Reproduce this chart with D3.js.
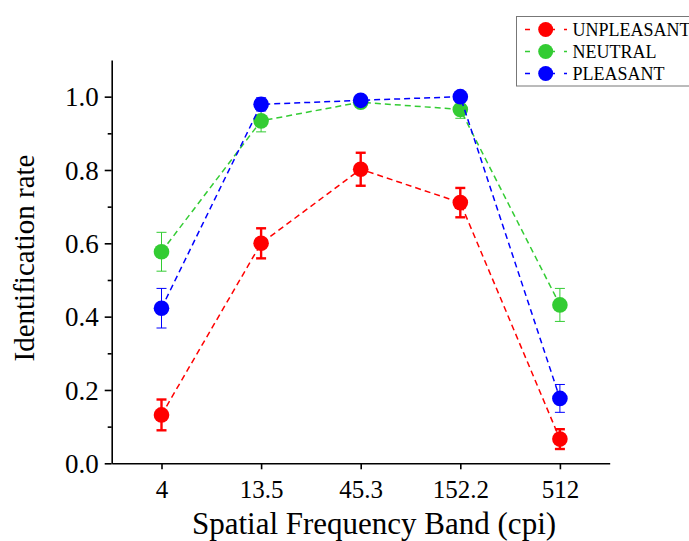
<!DOCTYPE html>
<html>
<head>
<meta charset="utf-8">
<script src="https://cdn.jsdelivr.net/npm/d3@7"></script>
<style>
  body { margin: 0; background: #fff; }
</style>
</head>
<body>
<svg id="chart" width="689" height="541"></svg>
<script>
// data
var bands = ['4', '13.5', '45.3', '152.2', '512'];
var yTicks = [0, 0.2, 0.4, 0.6, 0.8, 1.0];

var unpleasant    = [0.132, 0.600, 0.802, 0.711, 0.066];
var unpleasantErr = [0.042, 0.041, 0.045, 0.040, 0.027];
var neutral       = [0.577, 0.934, 0.985, 0.965, 0.432];
var neutralErr    = [0.053, 0.030, 0.012, 0.024, 0.045];
var pleasant      = [0.423, 0.979, 0.990, 1.000, 0.177];
var pleasantErr   = [0.054, 0.018, 0.010, 0.006, 0.038];

var series = [
  { name: 'UNPLEASANT', vals: unpleasant, err: unpleasantErr, color: '#ff0000', errW: 2.4 },
  { name: 'NEUTRAL',    vals: neutral,    err: neutralErr,    color: '#33cc33', errW: 1 },
  { name: 'PLEASANT',   vals: pleasant,   err: pleasantErr,   color: '#0000ff', errW: 1 }
];

var serif = "'Liberation Serif', 'Times New Roman', Times, 'DejaVu Serif', serif";

var svg = d3.select('#chart');

var x = d3.scaleLinear().domain([-0.5, 4.5]).range([111.7, 609.7]);
var y = d3.scaleLinear().domain([0, 1.1]).range([463.3, 60]);

// axes
var xAxis = d3.axisBottom(x).tickValues([0, 1, 2, 3, 4])
  .tickFormat(function(i) { return bands[i]; })
  .tickSizeOuter(0).tickSizeInner(6).tickPadding(10);
var gx = svg.append('g').attr('transform', 'translate(0,463.3)').call(xAxis);

var yMinor = d3.axisLeft(y).tickValues(d3.range(0.1, 1.1, 0.2)).tickSize(4).tickFormat('');
svg.append('g').attr('transform', 'translate(111.7,0)').call(yMinor).select('.domain').remove();

var yAxis = d3.axisLeft(y).tickValues(yTicks).tickFormat(d3.format('.1f'))
  .tickSizeOuter(0).tickSizeInner(7).tickPadding(6);
var gy = svg.append('g').attr('transform', 'translate(111.7,0)').call(yAxis);

svg.selectAll('g').attr('font-family', null);
gx.selectAll('text').style('font-size', '25px').attr('dy', '0.76em');
gy.selectAll('text').style('font-size', '27px').attr('dy', '0.34em');

svg.selectAll('.domain, .tick line').attr('stroke', '#000').attr('stroke-width', 1.6);

// axis titles
svg.append('text').attr('x', 374).attr('y', 534).attr('text-anchor', 'middle')
  .style('font-size', '31px').text('Spatial Frequency Band (cpi)');
svg.append('text').attr('transform', 'translate(34,258) rotate(-90)').attr('text-anchor', 'middle')
  .style('font-size', '29px').text('Identification rate');

var line = d3.line().x(function(d, i) { return x(i); }).y(function(d) { return y(d); });

series.forEach(function(s) {
  var g = svg.append('g');
  g.append('path').datum(s.vals).attr('d', line)
    .attr('fill', 'none').attr('stroke', s.color).attr('stroke-width', 1.5)
    .attr('stroke-dasharray', '6,4');

  var eb = g.selectAll('.eb').data(s.vals).enter().append('g');
  eb.append('line')
    .attr('x1', function(d, i) { return x(i); }).attr('x2', function(d, i) { return x(i); })
    .attr('y1', function(d, i) { return y(d + s.err[i]); })
    .attr('y2', function(d, i) { return y(d - s.err[i]); });
  eb.append('line')
    .attr('x1', function(d, i) { return x(i) - 5; }).attr('x2', function(d, i) { return x(i) + 5; })
    .attr('y1', function(d, i) { return y(d + s.err[i]); })
    .attr('y2', function(d, i) { return y(d + s.err[i]); });
  eb.append('line')
    .attr('x1', function(d, i) { return x(i) - 5; }).attr('x2', function(d, i) { return x(i) + 5; })
    .attr('y1', function(d, i) { return y(d - s.err[i]); })
    .attr('y2', function(d, i) { return y(d - s.err[i]); });
  eb.selectAll('line').attr('stroke', s.color).attr('stroke-width', s.errW);

  g.selectAll('circle').data(s.vals).enter().append('circle')
    .attr('cx', function(d, i) { return x(i); })
    .attr('cy', function(d) { return y(d); })
    .attr('r', 7.8).attr('fill', s.color);
});

// legend
var lg = svg.append('g');
lg.append('rect').attr('x', 516.5).attr('y', 16.5).attr('width', 190).attr('height', 69.5)
  .attr('fill', '#fff').attr('stroke', '#777').attr('stroke-width', 1);
series.forEach(function(s, k) {
  var ly = 29.5 + k * 22;
  lg.append('line').attr('x1', 525).attr('x2', 567).attr('y1', ly).attr('y2', ly)
    .attr('stroke', s.color).attr('stroke-width', 1.5).attr('stroke-dasharray', '5,9,16,9,5');
  lg.append('circle').attr('cx', 545.7).attr('cy', ly).attr('r', 7.5).attr('fill', s.color);
  lg.append('text').attr('x', 572.5).attr('y', ly + 6).style('font-size', '18px').text(s.name);
});

svg.selectAll('text').style('font-family', serif).attr('fill', '#000');
</script>
</body>
</html>
